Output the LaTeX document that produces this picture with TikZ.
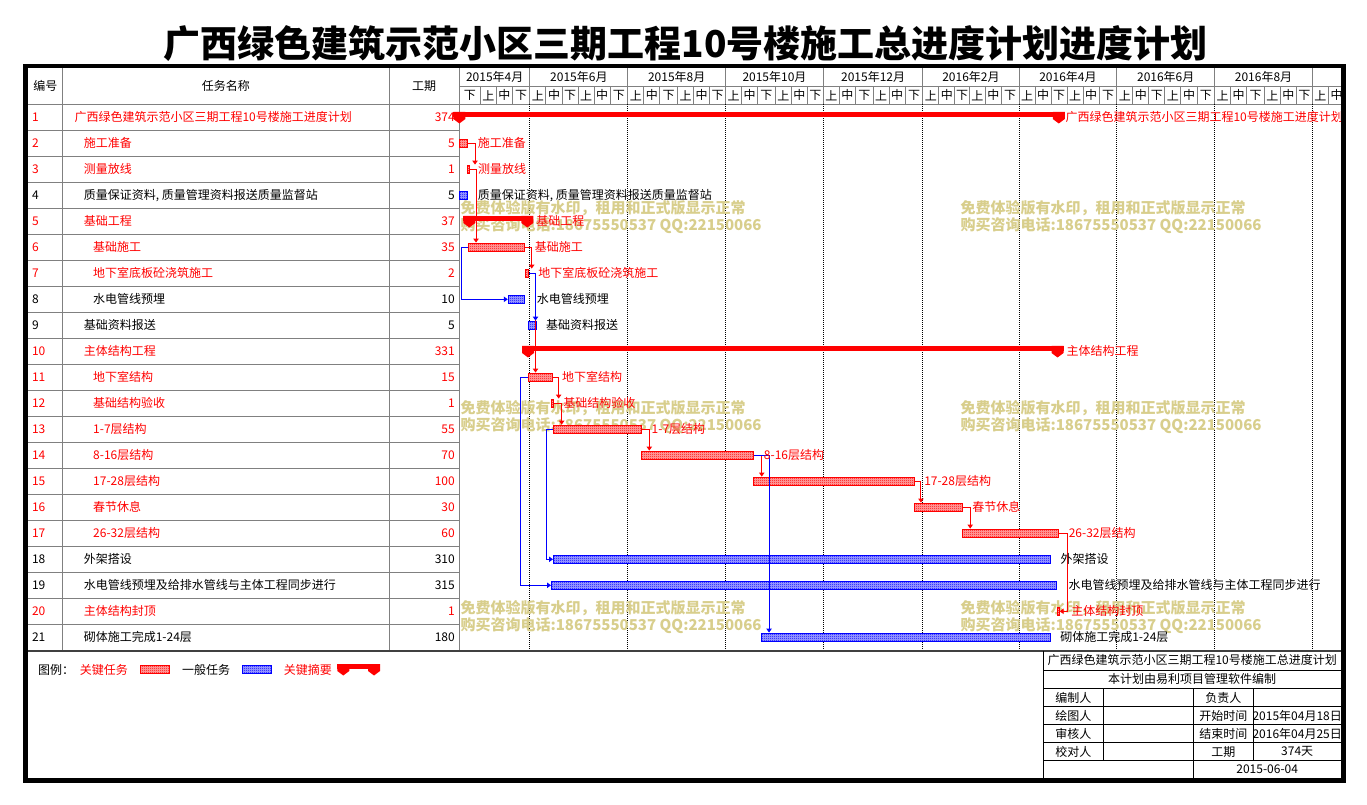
\documentclass[tikz,border=0pt]{standalone}
\usepackage{fontspec}
\setmainfont{Noto Sans CJK SC}
\usetikzlibrary{arrows.meta,patterns,positioning}
\pgfdeclarepatternformonly{checker}{\pgfqpoint{0pt}{0pt}}{\pgfqpoint{1.5pt}{1.5pt}}{\pgfqpoint{1.5pt}{1.5pt}}{%
  \pgfpathrectangle{\pgfqpoint{0pt}{0pt}}{\pgfqpoint{0.75pt}{0.75pt}}%
  \pgfpathrectangle{\pgfqpoint{0.75pt}{0.75pt}}{\pgfqpoint{0.75pt}{0.75pt}}%
  \pgfusepath{fill}}
\definecolor{wmk}{RGB}{216,206,140}
\definecolor{gridgray}{RGB}{128,128,128}
\tikzstyle{bar} = [anchor=west, inner sep=0pt, minimum height=6.3pt]
\tikzstyle{crit} = [bar, draw=red, preaction={fill=red!35}, pattern=checker, pattern color=red]
\tikzstyle{norm} = [bar, draw=blue, preaction={fill=blue!35}, pattern=checker, pattern color=blue]
\tikzstyle{rlink} = [draw=red, -{Triangle[length=3pt,width=4pt]}]
\tikzstyle{blink} = [draw=blue, -{Triangle[length=3pt,width=4pt]}]
\tikzstyle{lab} = [inner sep=0pt, font=\fontsize{9}{10}\selectfont]
\tikzstyle{critlab} = [lab, text=red]
\tikzstyle{wm} = [inner sep=0pt, anchor=west, text=wmk, font=\fontsize{11.25}{12}\selectfont\bfseries]
\tikzstyle{grid} = [draw=gridgray]
% summary bar: name, start, end, row centre
\newcommand{\sumbar}[4]{%
  \coordinate (#1s) at (#2,#4);
  \coordinate (#1e) at (#3,#4);
  \fill[red] (#2-6,#4-5.3) rectangle (#3+6,#4-0.3);
  \foreach \tip in {#2,#3}
    \fill[red] (\tip-6,#4-5.3) -- ++(12,0) -- ++(0,7) -- ++(-6,4.5) -- ++(-6,-4.5) -- cycle;
}

\begin{document}
\begin{tikzpicture}[x=0.75pt, y=-0.75pt, line width=0.75pt, node distance=6.75pt,
	days/.style={minimum width={#1*1.2026pt}},
	boxw/.style={minimum width={#1*0.75pt}}]
    \useasboundingbox (0,0) rectangle (1367,805);
    \node [font=\fontsize{27.75}{30}\selectfont\bfseries] (title) at (685.7,44) {广西绿色建筑示范小区三期工程10号楼施工总进度计划进度计划};
	%% Grid
    \foreach \cx in {62.7,389,459.4} \draw [grid] (\cx,68.3) -- (\cx,650.3);
    \foreach \i in {0,...,20} \draw [grid] (28,{104.3+26*\i}) -- (459.4,{104.3+26*\i});
    \draw [grid] (459.4,104.3) -- (1341,104.3);
    \draw [grid] (459.4,86.5) -- (1341,86.5);
    \node [lab] (hno) at (45.4,86.3) {编号};
    \node [lab] (hname) at (225.9,86.3) {任务名称};
    \node [lab] (hdur) at (424.2,86.3) {工期};
	%% Time scale
    \begin{scope}
    \clip (459.4,68) rectangle (1341,104.3);
    \foreach \m/\n [count=\k] in {13/31,44/30,74/31,105/31,136/30,166/31,197/30,227/31,258/31,289/29,318/31,349/30,379/31,410/30,440/31,471/31,502/30,532/31} {
        \foreach \o in {0,10,20} \draw [grid] ({459.4+1.6035*(\m+\o)},86.5) -- ++(0,17.8);
        \node [lab] (sa\k) at ({459.4+1.6035*(\m+5)},95.4) {上};
        \node [lab] (sb\k) at ({459.4+1.6035*(\m+15)},95.4) {中};
        \node [lab] (sc\k) at ({459.4+1.6035*(\m+20+(\n-20)/2)},95.4) {下};
    }
    \node [lab] (sc0) at ({459.4+1.6035*6.5},95.4) {下};
    \foreach \a/\b/\yr [count=\k] in {0/44/2015年4月,44/105/2015年6月,105/166/2015年8月,166/227/2015年10月,227/289/2015年12月,289/349/2016年2月,349/410/2016年4月,410/471/2016年6月,471/532/2016年8月} {
        \draw [grid] ({459.4+1.6035*\b},68.3) -- ++(0,36);
        \node [lab] (yr\k) at ({459.4+1.6035*(\a+\b)/2},77.4) {\yr};
    }
    \end{scope}
    \foreach \b in {44,105,166,227,289,349,410,471,532}
        \draw [dash pattern=on 0.75pt off 0.75pt] ({459.4+1.6035*\b},104.3) -- ++(0,546);
    \draw [draw=black!75, line width=1.2pt] (28,650.8) -- (1341,650.8);
	%% Task table
    \foreach \i/\tname/\tdur/\tx/\tc in {1/广西绿色建筑示范小区三期工程10号楼施工进度计划/374/74/red, 2/施工准备/5/83.3/red, 3/测量放线/1/83.3/red, 4/{质量保证资料, 质量管理资料报送质量监督站}/5/83.3/black, 5/基础工程/37/83.3/red, 6/基础施工/35/92.7/red, 7/地下室底板砼浇筑施工/2/92.7/red, 8/水电管线预埋/10/92.7/black, 9/基础资料报送/5/83.3/black, 10/主体结构工程/331/83.3/red, 11/地下室结构/15/92.7/red, 12/基础结构验收/1/92.7/red, 13/1-7层结构/55/92.7/red, 14/8-16层结构/70/92.7/red, 15/17-28层结构/100/92.7/red, 16/春节休息/30/92.7/red, 17/26-32层结构/60/92.7/red, 18/外架搭设/310/83.3/black, 19/水电管线预埋及给排水管线与主体工程同步进行/315/83.3/black, 20/主体结构封顶/1/83.3/red, 21/砌体施工完成1-24层/180/83.3/black} {
        \node [lab, text=\tc, anchor=west] (n\i) at (31.5,{91.3+26*\i}) {\i};
        \node [lab, text=\tc, anchor=west] (t\i) at (\tx,{91.3+26*\i}) {\tname};
        \node [lab, text=\tc, anchor=east] (d\i) at (455.3,{91.3+26*\i}) {\tdur};
    }
	%% Watermark
    \foreach \wx [count=\j] in {460,960}
        \foreach \wy [count=\k] in {208.3,408.3,608.3} {
            \node [wm] (wa\j\k) at (\wx,\wy) {免费体验版有水印，租用和正式版显示正常};
            \node [wm] (wb\j\k) at (\wx,\wy+17.4) {购买咨询电话:18675550537 QQ:22150066};
        }
	%% Bars
    \node [crit, days=5] (b2) at (459.4,143.3) {};
    \node [crit, days=1] (b3) at (467.4,169.3) {};
    \node [norm, days=5] (b4) at (459.4,195.3) {};
    \node [crit, days=35] (b6) at (468.3,247.3) {};
    \node [crit, days=2] (b7) at (524.6,273.3) {};
    \node [norm, days=10] (b8) at (507.8,299.3) {};
    \node [norm, days=5] (b9) at (527.6,325.3) {};
    \node [crit, days=15] (b11) at (527.6,377.3) {};
    \node [crit, days=1] (b12) at (551.2,403.3) {};
    \node [crit, days=55] (b13) at (553,429.3) {};
    \node [crit, days=70] (b14) at (641.2,455.3) {};
    \node [crit, days=100] (b15) at (753.4,481.3) {};
    \node [crit, days=30] (b16) at (913.8,507.3) {};
    \node [crit, days=60] (b17) at (962.1,533.3) {};
    \node [norm, days=310] (b18) at (553,559.3) {};
    \node [norm, days=315] (b19) at (551,585.3) {};
    \node [crit, days=1] (b20) at (1057,611.3) {};
    \node [norm, days=180] (b21) at (761.2,637.3) {};
    \sumbar{s1}{459.4}{1058.8}{117.3}
    \sumbar{s5}{469.3}{527.3}{221.3}
    \sumbar{s10}{528}{1057.5}{351.3}
	%% Links
    \path [rlink] (b2.east) -- ++(6.6,0) coordinate (k2) -- (k2 |- b3.north);
    \path [rlink] (b3.east) -- ++(6,0) coordinate (k3) -- (k3 |- b6.north);
    \path [rlink] (b6.east) -- ++(6.3,0) coordinate (k6) -- (k6 |- b7.north);
    \path [blink] (b6.west) -- ++(-6.6,0) |- (b8.west);
    \path [rlink] (b7.east) -- ++(6.7,0) coordinate (k7) -- (k7 |- b11.north);
    \path [blink] (b7.east) -- (k7) -- (k7 |- b9.north);
    \path [rlink] (b11.east) -- ++(6,0) coordinate (k11) -- (k11 |- b12.north);
    \path [blink] (b11.west) -- ++(-6.9,0) |- (b19.west);
    \path [rlink] (b12.east) -- ++(7.9,0) coordinate (k12) -- (k12 |- b13.north);
    \path [rlink] (b13.east) -- ++(7.1,0) coordinate (k13) -- (k13 |- b14.north);
    \path [blink] (b13.west) -- ++(-6.7,0) |- (b18.west);
    \path [rlink] (b14.east) -- ++(7.3,0) coordinate (k14) -- (k14 |- b15.north);
    \path [blink] (b14.east) -- ++(14.6,0) coordinate (m14) -- (m14 |- b21.north);
    \path [rlink] (b15.east) -- ++(6.2,0) coordinate (k15) -- (k15 |- b16.north);
    \path [rlink] (b16.east) -- ++(7.3,0) coordinate (k16) -- (k16 |- b17.north);
    \path [rlink] (b17.east) -- ++(7.7,0) |- (b20.east);
	%% Bar labels
    \node [critlab, right=4.7pt of s1e] (l1) {广西绿色建筑示范小区三期工程10号楼施工进度计划};
    \node [critlab, right=of b2] (l2) {施工准备};
    \node [critlab, right=5.8pt of b3] (l3) {测量放线};
    \node [lab, right=of b4] (l4) {质量保证资料, 质量管理资料报送质量监督站};
    \node [critlab, right=6.5pt of s5e] (l5) {基础工程};
    \node [critlab, right=of b6] (l6) {基础施工};
    \node [critlab, right=of b7] (l7) {地下室底板砼浇筑施工};
    \node [lab, right=8.6pt of b8] (l8) {水电管线预埋};
    \node [lab, right=of b9] (l9) {基础资料报送};
    \node [critlab, right=6.4pt of s10e] (l10) {主体结构工程};
    \node [critlab, right=of b11] (l11) {地下室结构};
    \node [critlab, right=of b12] (l12) {基础结构验收};
    \node [critlab, right=of b13] (l13) {1-7层结构};
    \node [critlab, right=of b14] (l14) {8-16层结构};
    \node [critlab, right=of b15] (l15) {17-28层结构};
    \node [critlab, right=of b16] (l16) {春节休息};
    \node [critlab, right=of b17] (l17) {26-32层结构};
    \node [lab, right=of b18] (l18) {外架搭设};
    \node [lab, right=8.2pt of b19] (l19) {水电管线预埋及给排水管线与主体工程同步进行};
    \node [critlab, right=8.5pt of b20] (l20) {主体结构封顶};
    \node [lab, right=of b21] (l21) {砌体施工完成1-24层};
	%% Legend
    \node [lab, anchor=west] (lg) at (37.7,670) {图例：};
    \node [critlab, anchor=west] (lg1) at (79.3,670) {关键任务};
    \node [crit, boxw=29] (lgb1) at (139.5,669.6) {};
    \node [lab, anchor=west] (lg2) at (181.7,670) {一般任务};
    \node [norm, boxw=29] (lgb2) at (241.5,669.6) {};
    \node [critlab, anchor=west] (lg3) at (283.3,670) {关键摘要};
    \sumbar{lgs}{343.3}{374}{669.3}
	%% Info table
    \draw (1043.3,650.8) -- (1043.3,778.3);
    \foreach \hy in {670,688.3,706.7,724.3,742.7,760.7} \draw (1043.3,\hy) -- (1341,\hy);
    \draw (1103.3,688.3) -- (1103.3,760.7);
    \draw (1193.3,688.3) -- (1193.3,778.3);
    \draw (1253.3,688.3) -- (1253.3,760.7);
    \node [lab] (ia) at (1192.2,660.4) {广西绿色建筑示范小区三期工程10号楼施工总进度计划};
    \node [lab] (ib) at (1192.2,679.2) {本计划由易利项目管理软件编制};
    \foreach \r/\lt/\rt/\rv [count=\k] in {697.5/编制人/负责人/{}, 715.5/绘图人/开始时间/2015年04月18日, 733.5/审核人/结束时间/2016年04月25日, 751.7/校对人/工期/374天} {
        \node [lab] (ic\k) at (1073.3,\r) {\lt};
        \node [lab] (id\k) at (1223.3,\r) {\rt};
        \node [lab] (ie\k) at (1297.2,\r) {\rv};
    }
    \node [lab] (ig) at (1267.2,769.5) {2015-06-04};
	%% Frame
    \draw [line width=3.5pt] (25.7,66) rectangle (1343.5,780.7);
\end{tikzpicture}
\end{document}
